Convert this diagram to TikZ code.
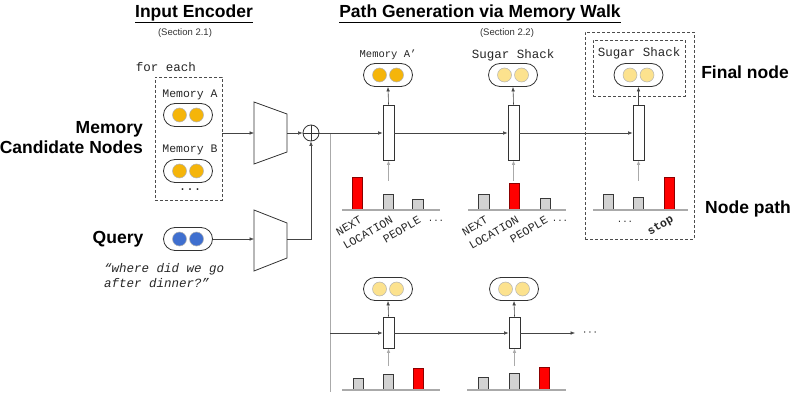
\documentclass[tikz,border=0pt]{standalone}
\usepackage{fontspec}
\setmainfont{Liberation Sans}
\newfontfamily\monof{Liberation Mono}
\usetikzlibrary{arrows.meta}
\definecolor{gold}{HTML}{F5B50A}
\definecolor{lightgold}{HTML}{FCE28E}
\definecolor{qblue}{HTML}{3F6FCF}
\definecolor{linegray}{HTML}{444444}
\definecolor{softgray}{HTML}{AAAAAA}
\tikzset{
  pill/.style={draw=black!80, line width=0.8pt, rounded corners=11.5pt, minimum width=49pt, minimum height=23pt, inner sep=0pt, fill=white},
  dotc/.style={circle, draw=gray!60, line width=0.5pt, minimum size=14pt, inner sep=0pt},
  cell/.style={draw=black!80, line width=0.8pt, fill=white, minimum width=11pt, inner sep=0pt},
  arr/.style={-{Latex[length=4.5pt,width=3.6pt]}, draw=linegray, line width=0.6pt},
  garr/.style={-{Latex[length=4.5pt,width=3.6pt]}, draw=softgray, line width=0.9pt},
  gline/.style={draw=softgray, line width=0.9pt},
  dbox/.style={draw=black!70, line width=0.8pt, dash pattern=on 3pt off 2pt},
  trap/.style={draw=black!80, line width=0.8pt, fill=white},
  gbar/.style={fill=gray!35, draw=gray!45!black, line width=0.6pt},
  rbar/.style={fill=red, draw=red!55!black, line width=0.6pt},
  base/.style={draw=softgray, line width=1.2pt},
  bigbold/.style={font=\fontsize{17.5}{20}\selectfont\bfseries, inner sep=0pt},
  sect/.style={font=\fontsize{9.5}{11}\selectfont, text=black!80},
  mlab/.style={font=\monof\fontsize{12.5}{14}\selectfont, text=black!85, inner sep=0pt},
  blab/.style={font=\monof\fontsize{11.5}{13}\selectfont, text=black!85, inner sep=0pt, rotate=30, anchor=east},
  sdots/.style={font=\monof\fontsize{9}{10}\selectfont, text=black!85, inner sep=0pt},
}
\newcommand{\mkpill}[3]{%
  \node[pill] (#1) at (#2) {};
  \node[dotc, fill=#3] at ([xshift=-8.5pt]#1.center) {};
  \node[dotc, fill=#3] at ([xshift=8.5pt]#1.center) {};
}
\begin{document}
\begin{tikzpicture}[x=1pt,y=-1pt]
\path[use as bounding box] (0,0) rectangle (797,406);

% titles
\node[bigbold] (tIE) at (194,14) {\underline{Input Encoder}};
\node[sect] (sIE) at (185,33) {(Section 2.1)};
\node[bigbold] (tPG) at (480,14) {\underline{Path Generation via Memory Walk}};
\node[sect] (sPG) at (507,33) {(Section 2.2)};

% left labels
\node[bigbold, align=right, anchor=east] (mcn) at (143,138) {Memory\\Candidate Nodes};
\node[bigbold] (qlab) at (118,239) {Query};
\node[font=\monof\itshape\fontsize{12.5}{15}\selectfont, align=left, anchor=west, inner sep=0pt, text=black!85] (quote) at (104,275.5) {“where did we go\\after dinner?”};

% candidate box
\node[mlab] (fe) at (166,67) {for each};
\node[dbox, minimum width=67pt, minimum height=123pt, inner sep=0pt] (cand) at (188.5,138.5) {};
\node[mlab, font=\monof\fontsize{11.5}{13}\selectfont] (lA) at (190,95) {Memory A};
\node[mlab, font=\monof\fontsize{11.5}{13}\selectfont] (lB) at (190,150) {Memory B};
\node[mlab] (ldots) at (190,190) {...};
\mkpill{pA}{188,115}{gold}
\mkpill{pB}{188,171}{gold}
\mkpill{pQ}{188,239}{qblue}

% trapezoids
\draw[trap] (254,102) -- (287,114) -- (287,152) -- (254,164) -- cycle;
\coordinate (t1l) at (254,133);
\coordinate (t1r) at (287,133);
\draw[trap] (254,210) -- (287,223) -- (287,258) -- (254,271) -- cycle;
\coordinate (t2l) at (254,239);
\coordinate (t2r) at (287,239);

% oplus
\node[circle, draw=black!80, line width=0.8pt, minimum size=16pt, inner sep=0pt] (op) at (311,133) {};
\draw[line width=0.8pt, draw=black!80] (op.north) -- (op.south) (op.west) -- (op.east);

\draw[arr] (cand.east |- t1l) -- (t1l);
\draw[arr] (t1r) -- (op.west);
\draw[arr] (pQ.east) -- (t2l);
\draw[arr] (t2r) -| (op.south);

% cells upper row
\node[cell, minimum height=55pt] (c1) at (388.5,132.5) {};
\node[cell, minimum height=55pt] (c2) at (513.5,132.5) {};
\node[cell, minimum height=55pt] (c3) at (638.5,132.5) {};
% cells lower row
\node[cell, minimum height=31pt] (d1) at (388.5,332.5) {};
\node[cell, minimum height=31pt] (d2) at (514.5,332.5) {};

% split line
\coordinate (split) at (330,133);
\coordinate (split2) at (330,333);
\coordinate (vend) at (330,392);
\draw[gline] (split) -- (vend);
\draw[arr] (op.east) -- (op.east -| c1.west);
\draw[arr] (c1.east |- op.east) -- (c2.west |- op.east);
\draw[arr] (c2.east |- op.east) -- (c3.west |- op.east);
\draw[arr] (split2) -- (split2 -| d1.west);
\draw[arr] (d1.east |- split2) -- (d2.west |- split2);
\coordinate (lend) at (575,333);
\draw[arr] (d2.east |- split2) -- (lend);
\node[inner sep=0pt, font=\fontsize{13}{14}\selectfont] (cdots) at (590,333) {$\cdots$};

% final boxes
\node[dbox, minimum width=109pt, minimum height=207pt, inner sep=0pt] (fbox) at (639.5,135.5) {};
\node[dbox, minimum width=92pt, minimum height=56pt, inner sep=0pt] (ibox) at (639,68) {};

% pills upper
\node[mlab, font=\monof\fontsize{10.5}{12}\selectfont] (l1) at (388,55) {Memory A’};
\node[mlab] (l2) at (513,55) {Sugar Shack};
\node[mlab] (l3) at (639,53) {Sugar Shack};
\mkpill{p1}{388,75}{gold}
\mkpill{p2}{513,75}{lightgold}
\mkpill{p3}{638.5,75}{lightgold}
\mkpill{q1}{388,289}{lightgold}
\mkpill{q2}{514,289}{lightgold}

\draw[arr] (c1.north) -- (p1.south);
\draw[arr] (c2.north) -- (p2.south);
\draw[arr] (c3.north) -- (p3.south);
\draw[arr] (d1.north) -- (q1.south);
\draw[arr] (d2.north) -- (q2.south);

% bar chart inputs
\coordinate (b1) at (388.5,181);
\coordinate (b2) at (513.5,181);
\coordinate (b3) at (638.5,181);
\coordinate (e1) at (388.5,366);
\coordinate (e2) at (514.5,366);
\draw[garr] (b1) -- (c1.south);
\draw[garr] (b2) -- (c2.south);
\draw[garr] (b3) -- (c3.south);
\draw[garr] (e1) -- (d1.south);
\draw[garr] (e2) -- (d2.south);

% chart 1
\draw[rbar] (352,210) rectangle (362,177);
\draw[gbar] (383,210) rectangle (393,194);
\draw[gbar] (412,210) rectangle (423,199);
\draw[base] (342,210) -- (440,210);
\node[blab] (x1a) at (361,219) {NEXT};
\node[blab] (x1b) at (392,219) {LOCATION};
\node[blab] (x1c) at (420,219) {PEOPLE};
\node[sdots] (x1d) at (436,221) {...};
% chart 2
\draw[gbar] (478,210) rectangle (489,194);
\draw[rbar] (509,210) rectangle (519,183);
\draw[gbar] (540,210) rectangle (550,198);
\draw[base] (468,210) -- (566,210);
\node[blab] (x2a) at (487,219) {NEXT};
\node[blab] (x2b) at (518,219) {LOCATION};
\node[blab] (x2c) at (547,219) {PEOPLE};
\node[sdots] (x2d) at (560,221) {...};
% chart 3
\draw[gbar] (603,210) rectangle (613,194);
\draw[gbar] (633,210) rectangle (643,197);
\draw[rbar] (664,210) rectangle (674,177);
\draw[base] (593,210) -- (688,210);
\node[sdots] (x3d) at (625,222) {...};
\node[blab, font=\monof\bfseries\fontsize{11.5}{13}\selectfont] (x3s) at (673,219) {stop};
% lower charts
\draw[gbar] (353,390) rectangle (363,378);
\draw[gbar] (383,390) rectangle (393,374);
\draw[rbar] (413,390) rectangle (423,368);
\draw[base] (342,390) -- (440,390);
\draw[gbar] (478,390) rectangle (488,377);
\draw[gbar] (509,390) rectangle (519,373);
\draw[rbar] (539,390) rectangle (549,367);
\draw[base] (467,390) -- (566,390);

% right labels
\node[bigbold] (fn) at (745,72) {Final node};
\node[bigbold] (np) at (748,209) {Node path};
\end{tikzpicture}
\end{document}
